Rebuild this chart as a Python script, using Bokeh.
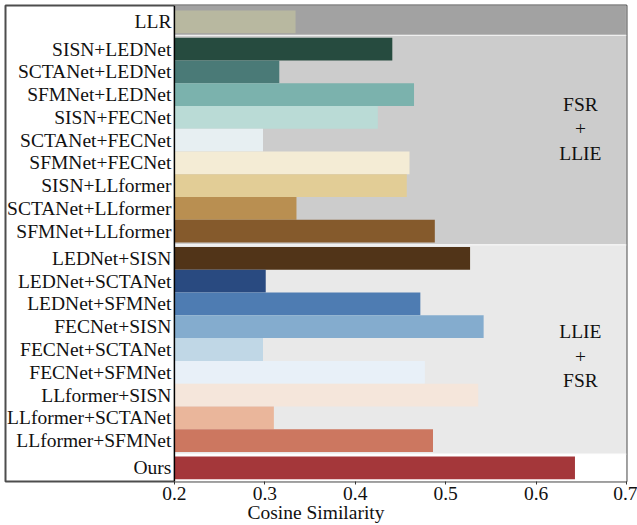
from bokeh.plotting import figure
from bokeh.models import Range1d, FixedTicker, Span, ColumnDataSource
from bokeh.core.properties import value
from bokeh.embed import file_html
from bokeh.resources import INLINE

# ---------------- data ----------------
methods = [
    "LLR",
    "SISN+LEDNet", "SCTANet+LEDNet", "SFMNet+LEDNet",
    "SISN+FECNet", "SCTANet+FECNet", "SFMNet+FECNet",
    "SISN+LLformer", "SCTANet+LLformer", "SFMNet+LLformer",
    "LEDNet+SISN", "LEDNet+SCTANet", "LEDNet+SFMNet",
    "FECNet+SISN", "FECNet+SCTANet", "FECNet+SFMNet",
    "LLformer+SISN", "LLformer+SCTANet", "LLformer+SFMNet",
    "Ours",
]
similarity = [
    0.334,
    0.441, 0.316, 0.465,
    0.425, 0.298, 0.460,
    0.457, 0.335, 0.488,
    0.527, 0.301, 0.472,
    0.542, 0.298, 0.477,
    0.536, 0.310, 0.486,
    0.643,
]
bar_colors = [
    "#b8b8a0",
    "#264b3f", "#4a7a77", "#7bb2ad",
    "#badbd6", "#e7eff2", "#f4ecd5",
    "#e2cd96", "#b98f51", "#855a2c",
    "#513418", "#294a80", "#4e7cb2",
    "#84acce", "#c0d7e6", "#e8f0f8",
    "#f5e6db", "#eab69b", "#cc7760",
    "#a4373a",
]
group_sizes = [1, 9, 9, 1]
group_names = ["", "FSR\n+\nLLIE", "LLIE\n+\nFSR", ""]
band_colors = ["#a2a2a2", "#cccccc", "#e9e9e9", "#ffffff"]
x_ticks = [0.2, 0.3, 0.4, 0.5, 0.6, 0.7]
x_label = "Cosine Similarity"

# ---------------- layout of rows ----------------
GAP = 0.2
ys = []
group_start = []
group_end = []
pos = 0.0
for gi, n in enumerate(group_sizes):
    if gi > 0:
        pos += GAP
    group_start.append(pos)
    for k in range(n):
        ys.append(pos)
        pos += 1.0
    group_end.append(pos - 1.0)

Y_TOP = -0.715
Y_BOTTOM = group_end[-1] + 0.6
band_top = [Y_TOP] + [group_end[i] + 0.5 + GAP / 2 for i in range(len(group_sizes) - 1)]
band_bot = band_top[1:] + [Y_BOTTOM]

X0 = 0.0132
p = figure(
    width=637, height=525,
    x_range=Range1d(X0, x_ticks[-1]),
    y_range=Range1d(Y_BOTTOM, Y_TOP),
    y_axis_location=None,
    output_backend="svg", toolbar_location=None,
    min_border_left=5, min_border_right=11, min_border_top=5, min_border_bottom=0,
)
p.grid.visible = False
p.background_fill_color = "white"
p.border_fill_color = "white"
p.outline_line_color = "#4d4d4d"
p.outline_line_width = 2

FONT = "Liberation Serif"

# background bands
p.quad(left=x_ticks[0], right=x_ticks[-1], top=band_top, bottom=band_bot,
       fill_color=band_colors, line_color="white", line_alpha=0.55, line_width=1.2)

# bars
src = ColumnDataSource(dict(y=ys, v=similarity, c=bar_colors, m=methods))
p.hbar(y="y", left=x_ticks[0], right="v", height=1.0, fill_color="c",
       line_color=None, source=src)

# category labels (inside the boxed area, left of the axis line)
p.text(x=x_ticks[0], y="y", text="m", source=src, x_offset=-3,
       text_align="right", text_baseline="middle",
       text_font=value(FONT), text_font_size="19.5px", text_color="#111111")

# group annotations
ann_x = [0.649, 0.649]
ann_y = [group_start[1] + 3.5, group_start[2] + 4.3]
p.text(x=ann_x, y=ann_y, text=[group_names[1], group_names[2]],
       text_align="center", text_baseline="middle", text_line_height=1.17,
       text_font=value(FONT), text_font_size="19.5px", text_color="#111111")

# vertical axis line at x = 0.2
p.add_layout(Span(location=x_ticks[0], dimension="height", line_color="black",
                  line_width=1.5))

ax = p.xaxis[0]
ax.bounds = (x_ticks[0], x_ticks[-1])
ax.ticker = FixedTicker(ticks=x_ticks)
ax.axis_line_color = None
ax.minor_tick_line_color = None
ax.major_tick_in = 0
ax.major_tick_out = 3
ax.major_tick_line_color = "#333333"
ax.major_label_text_font = FONT
ax.major_label_text_font_size = "19.5px"
ax.major_label_text_color = "#111111"
ax.major_label_standoff = 2
ax.axis_label = x_label
ax.axis_label_text_font = FONT
ax.axis_label_text_font_size = "19.5px"
ax.axis_label_text_font_style = "normal"
ax.axis_label_text_color = "#111111"
ax.axis_label_standoff = -1

open("out.html", "w").write(file_html(p, INLINE))
